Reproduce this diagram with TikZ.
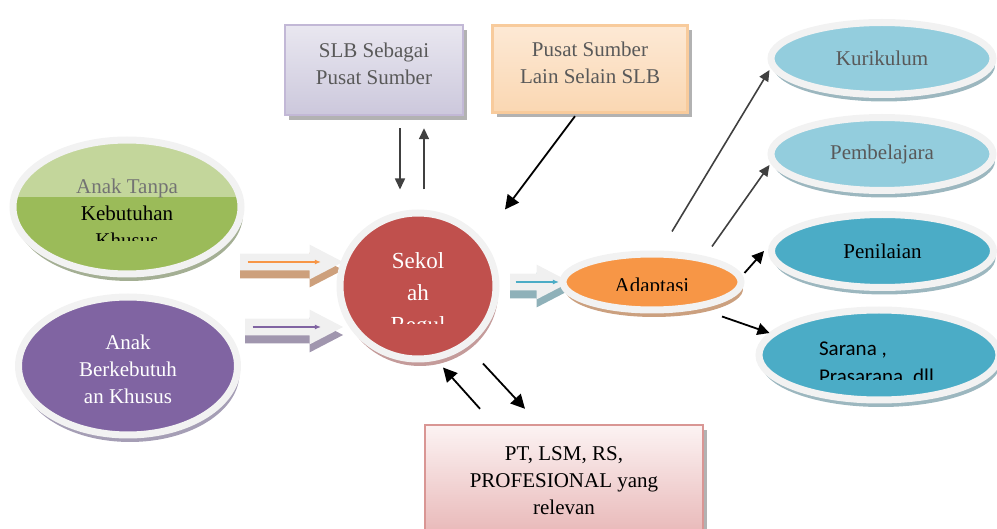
\documentclass[tikz,border=0pt]{standalone}
\usepackage{fontspec}
\setmainfont{Liberation Serif}
\newfontfamily\calfont{Carlito}
\usetikzlibrary{positioning, shapes.geometric, shapes.arrows, shadows, arrows.meta}

\definecolor{ringC}{HTML}{F2F2F2}
\definecolor{gLight}{HTML}{C3D69B}
\definecolor{gDark}{HTML}{9BBB59}
\definecolor{gShadow}{HTML}{A4AF94}
\definecolor{pPurple}{HTML}{8064A2}
\definecolor{pShadow}{HTML}{A59EB5}
\definecolor{rRed}{HTML}{C0504D}
\definecolor{rShadow}{HTML}{C49B9A}
\definecolor{oOrange}{HTML}{F79646}
\definecolor{oShadow}{HTML}{CBA07F}
\definecolor{bLight}{HTML}{93CDDD}
\definecolor{bDark}{HTML}{4BACC6}
\definecolor{bShadow}{HTML}{9CB7BF}
\definecolor{txtGray}{HTML}{595959}
\definecolor{arrGray}{HTML}{404040}
\definecolor{slbTop}{HTML}{E9E7F0}
\definecolor{slbBot}{HTML}{CCC8DC}
\definecolor{slbLine}{HTML}{C2B8D6}
\definecolor{lainTop}{HTML}{FDE9D5}
\definecolor{lainBot}{HTML}{FAD7B2}
\definecolor{lainLine}{HTML}{F8CB9C}
\definecolor{ptTop}{HTML}{FCF3F3}
\definecolor{ptBot}{HTML}{E8B7B7}
\definecolor{ptLine}{HTML}{D99694}
\definecolor{tanArr}{HTML}{CDA07C}
\definecolor{purArr}{HTML}{A096AE}
\definecolor{tealArr}{HTML}{8FB1B9}

\begin{document}
\begin{tikzpicture}[x=0.5pt, y=-0.5pt,
  font=\fontsize{10.5}{13.5}\selectfont,
  dropc/.style={drop shadow={shadow xshift=1pt, shadow yshift=-3.5pt, fill=#1, opacity=1}},
  ring/.style={ellipse, draw=ringC, line width=3.5pt, inner sep=0pt},
  board/.style={rectangle, draw=#1, line width=1.2pt, inner sep=0pt,
    drop shadow={shadow xshift=2pt, shadow yshift=-2.5pt, fill=black!30, opacity=1}},
  fat/.style={single arrow, fill=black!6, inner sep=4pt, single arrow head extend=4.5pt,
    single arrow tip angle=55, drop shadow={shadow xshift=0pt, shadow yshift=-4pt, fill=#1, opacity=1}},
  thin/.style={-{Latex[length=3pt,width=2.5pt]}, line width=0.6pt},
  conn/.style={-{Triangle[length=7pt,width=7pt]}, line width=0.9pt},
  link/.style={-{Triangle[length=5.5pt,width=5pt]}, line width=0.8pt, arrGray},
  ]
  \useasboundingbox (0,0) rectangle (997,529);
  \clip (0,0) rectangle (997,529);

  % sources on the left
  \node[ring, fill=gDark, minimum width=114pt, minimum height=67pt, dropc=gShadow,
    path picture={\fill[gLight] (path picture bounding box.north west) rectangle ([yshift=5pt]path picture bounding box.east);}] (atk) at (127,207) {};
  \node[ring, fill=pPurple, minimum width=109.5pt, minimum height=69pt, dropc=pShadow] (abk) at (128,366) {};

  \node[fat=tanArr, minimum height=51.5pt] (fatA) at (283.5,262) {};
  \node[fat=purArr, minimum height=49pt] (fatB) at (286,327) {};
  \draw[thin, oOrange] ([xshift=4pt]fatA.tail) -- ([xshift=-11.5pt]fatA.tip);
  \draw[thin, pPurple] ([xshift=4pt]fatB.tail) -- ([xshift=-11.5pt]fatB.tip);

  % school
  \node[ring, fill=rRed, minimum width=78pt, minimum height=73pt, dropc=rShadow] (sekolah) at (418,286) {};
  \node[fat=tealArr, minimum height=30pt] (fatC) at (532,282) {};
  \draw[thin, bDark] ([xshift=3pt]fatC.tail) -- ([xshift=-6pt]fatC.tip);
  \node[ring, fill=oOrange, minimum width=89pt, minimum height=28pt, dropc=oShadow] (adaptasi) at (652,282) {};

  % resource boxes
  \node[board=slbLine, top color=slbTop, bottom color=slbBot, minimum width=89pt, minimum height=45pt] (slb) at (374,70) {};
  \node[align=center, text=txtGray] (slbText) at ([yshift=3pt]slb.center) {SLB Sebagai\\Pusat Sumber};
  \node[board=lainLine, top color=lainTop, bottom color=lainBot, minimum width=97.5pt, minimum height=43.5pt] (lain) at (590,69) {};
  \node[align=center, text=txtGray] (lainText) at ([yshift=3.25pt]lain.center) {Pusat Sumber\\Lain Selain SLB};
  \node[board=ptLine, top color=ptTop, bottom color=ptBot, minimum width=139pt, minimum height=56pt, align=center] (pt) at (564,481) {PT, LSM, RS,\\PROFESIONAL yang\\relevan};

  % adaptation targets
  \node[ring, fill=bLight, minimum width=111pt, minimum height=36pt, dropc=bShadow, text=txtGray] (kuri) at (882,58.5) {Kurikulum};
  \node[ring, fill=bLight, minimum width=111pt, minimum height=36.5pt, dropc=bShadow, text=txtGray] (pemb) at (882,154) {Pembelajara};
  \node[ring, fill=bDark, minimum width=111pt, minimum height=36.5pt, dropc=bShadow] (peni) at (882.5,251) {Penilaian};
  \node[ring, fill=bDark, minimum width=120pt, minimum height=45pt, dropc=bShadow] (sarana) at (879,355) {};

  % clipped texts
  \begin{scope}
    \clip (atk.north west) rectangle ([yshift=-17pt]atk.east);
    \node[align=center] (atkText) at (127,213) {{\color{black!55}Anak Tanpa}\\Kebutuhan\\Khusus};
  \end{scope}
  \begin{scope}
    \clip (abk.north west) rectangle ([yshift=-19pt]abk.east);
    \node[align=center, text=white] (abkText) at (128,369) {Anak\\Berkebutuh\\an Khusus};
  \end{scope}
  \begin{scope}
    \clip (sekolah.north west) rectangle ([yshift=-19pt]sekolah.east);
    \node[align=center, text=white, font=\fontsize{11.5}{16}\selectfont] (sekText) at (418,295) {Sekol\\ah\\Regul};
  \end{scope}
  \begin{scope}
    \clip (adaptasi.north west) rectangle ([yshift=-4.5pt]adaptasi.east);
    \node[anchor=base] (adaText) at (652,293) {Adaptasi};
  \end{scope}
  \begin{scope}
    \clip (sarana.north west) rectangle ([yshift=-12.5pt]sarana.east);
    \node[anchor=west, align=left, font=\calfont\fontsize{10.5}{14}\selectfont] (sarText) at (812,364) {Sarana ,\\Prasarana, dll};
  \end{scope}

  % connectors
  \draw[link] ([xshift=13pt,yshift=-6pt]slb.south) -- ([xshift=-9pt,yshift=10pt]sekolah.north);
  \draw[link] ([xshift=3pt,yshift=10pt]sekolah.north) -- ([xshift=25pt,yshift=-6pt]slb.south);
  \draw[conn] ([xshift=-7.5pt,yshift=-1.25pt]lain.south) -- ([xshift=43.5pt]sekolah.north);
  \draw[link] ([xshift=10pt,yshift=9.5pt]adaptasi.north) -- ([xshift=1pt,yshift=-5.75pt]kuri.west);
  \draw[link] ([xshift=30pt,yshift=2pt]adaptasi.north) -- ([xshift=1pt,yshift=-5.5pt]pemb.west);
  \draw[conn, -{Triangle[length=6pt,width=6pt]}] ([yshift=4.5pt]adaptasi.east) -- ([xshift=-2pt]peni.west);
  \draw[conn, -{Triangle[length=6pt,width=6pt]}] ([xshift=35pt,yshift=-1.5pt]adaptasi.south) -- ([xshift=7pt,yshift=11pt]sarana.west);
  \draw[conn] ([xshift=-42pt,yshift=7.5pt]pt.north) -- ([xshift=12.5pt,yshift=-2.5pt]sekolah.south);
  \draw[conn] ([xshift=32.5pt,yshift=-0.5pt]sekolah.south) -- ([xshift=-19.5pt,yshift=7.5pt]pt.north);
\end{tikzpicture}
\end{document}
